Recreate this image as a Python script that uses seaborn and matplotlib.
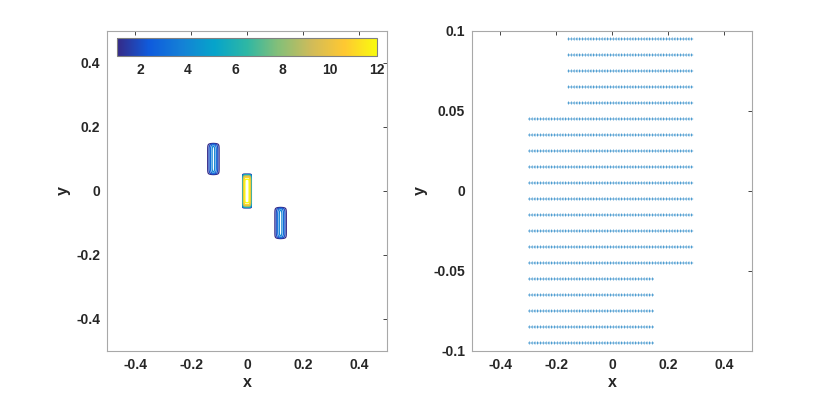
import numpy as np
import matplotlib
matplotlib.use("Agg")
import matplotlib.pyplot as plt
from matplotlib.colors import LinearSegmentedColormap, Normalize
import seaborn as sns

# contornos: tres faixas (centro x, centro y, meia altura, meia largura, pico, forma do perfil)
faixa_cx = [-0.12, 0.0, 0.12]
faixa_cy = [0.10, 0.0, -0.10]
faixa_meia_alt = [0.05, 0.053, 0.05]
faixa_meia_larg = [0.025, 0.016, 0.025]
faixa_pico = [4.6, 12.3, 4.6]
faixa_expoente = [1.2, 5, 1.2]
niveis = [1, 2, 3, 4, 5, 6, 7, 8, 9, 10, 11, 12]
cbar_ticks = [2, 4, 6, 8, 10, 12]

# setas: linhas (y) e inicio/fim de cada linha em x
linhas_y = [0.095, 0.085, 0.075, 0.065, 0.055,
            0.045, 0.035, 0.025, 0.015, 0.005,
            -0.005, -0.015, -0.025, -0.035, -0.045,
            -0.055, -0.065, -0.075, -0.085, -0.095]
linhas_x0 = [-0.15] * 5 + [-0.29] * 10 + [-0.29] * 5
linhas_x1 = [0.29] * 5 + [0.29] * 10 + [0.15] * 5
passo_x = 0.01
seta_u = -0.009
seta_v = 0.0

ticks_x = [-0.4, -0.2, 0, 0.2, 0.4]
ticks_y_esq = [-0.4, -0.2, 0, 0.2, 0.4]
ticks_y_dir = [-0.1, -0.05, 0, 0.05, 0.1]

parula = LinearSegmentedColormap.from_list("parula", [
    "#352A87", "#0F5CDD", "#1481D6", "#06A4CA", "#2EB7A4",
    "#87BF77", "#D1BB59", "#FEC832", "#F9FB0E"])

sns.set_theme(style="white")
plt.rcParams['font.family'] = ['Liberation Sans', 'DejaVu Sans']
plt.rcParams['font.weight'] = 'bold'
plt.rcParams['axes.labelweight'] = 'bold'

fig = plt.figure(figsize=(8.3, 3.95), dpi=100)
ax1 = fig.add_axes([107/830, 1-351/395, 280/830, 320/395])
ax2 = fig.add_axes([472/830, 1-351/395, 280/830, 320/395])

# campo: perfil em x, quase plano em y
xg = np.linspace(-0.5, 0.5, 1001)
yg = np.linspace(-0.5, 0.5, 1001)
X, Y = np.meshgrid(xg, yg)
Z = np.zeros_like(X)
for cx, cy, ha, hw, p, k in zip(faixa_cx, faixa_cy, faixa_meia_alt,
                                faixa_meia_larg, faixa_pico, faixa_expoente):
    fx = np.clip(1 - np.abs((X - cx) / hw) ** k, 0, None)
    fy = np.clip(1 - (np.abs(Y - cy) / ha) ** 10, 0, None)
    Z = np.maximum(Z, p * fx * fy)

norma = Normalize(vmin=1, vmax=12)
ax1.contour(X, Y, Z, levels=niveis, cmap=parula, norm=norma, linewidths=0.9)

# quiver
qx, qy = [], []
for y, x0, x1 in zip(linhas_y, linhas_x0, linhas_x1):
    xs = np.arange(x0, x1 + passo_x / 2, passo_x)
    qx.extend(xs)
    qy.extend([y] * len(xs))
qx = np.array(qx)
qy = np.array(qy)
ax2.quiver(qx, qy, np.full_like(qx, seta_u), np.full_like(qx, seta_v),
           color="#0072BD", angles="xy", scale_units="xy", scale=1,
           width=0.003, headwidth=5, headlength=1.6, headaxislength=1.6,
           alpha=0.75)

for ax, yt, ylim in [(ax1, ticks_y_esq, (-0.5, 0.5)), (ax2, ticks_y_dir, (-0.1, 0.1))]:
    ax.set_xlim(-0.5, 0.5)
    ax.set_ylim(*ylim)
    ax.set_xticks(ticks_x)
    ax.set_xticklabels(["-0.4", "-0.2", "0", "0.2", "0.4"])
    ax.set_yticks(yt)
    ax.set_xlabel("x", fontsize=11.5, labelpad=2)
    ax.set_ylabel("y", fontsize=11.5, labelpad=4)
    ax.tick_params(direction="in", length=3, width=0.6, colors="#262626",
                   labelsize=10, top=True, right=True, pad=5)
    for s in ax.spines.values():
        s.set_color("#a8a8a8")
        s.set_linewidth(0.8)
ax1.set_yticklabels(["-0.4", "-0.2", "0", "0.2", "0.4"])
ax2.set_yticklabels(["-0.1", "-0.05", "0", "0.05", "0.1"])

# barra de cores dentro do eixo, no topo
cax = fig.add_axes([117/830, 1-56/395, 260/830, 18/395])
sm = plt.cm.ScalarMappable(norm=norma, cmap=parula)
cb = fig.colorbar(sm, cax=cax, orientation="horizontal", ticks=cbar_ticks)
cb.outline.set_edgecolor("#808080")
cb.outline.set_linewidth(0.8)
cax.tick_params(direction="in", length=3, width=0.6, colors="#262626",
                labelsize=10, pad=5)

fig.savefig("out.png", dpi=100)
